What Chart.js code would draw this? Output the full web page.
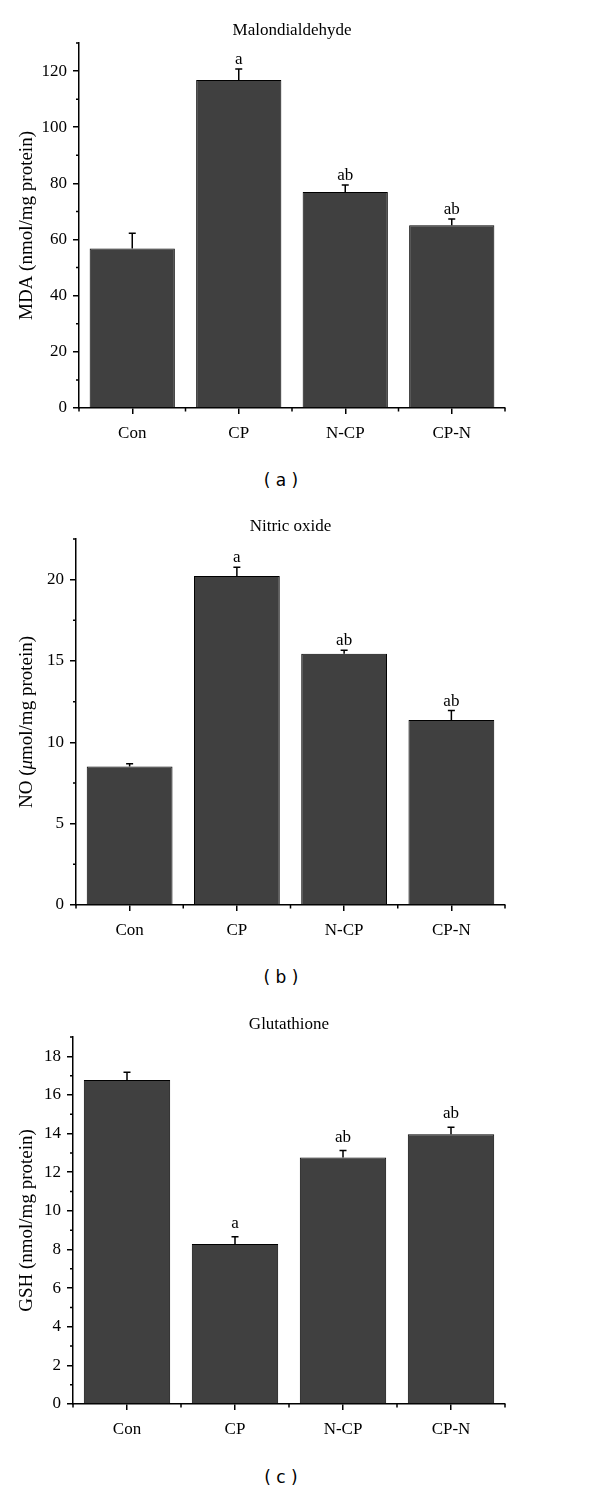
<!DOCTYPE html>
<html><head><meta charset="utf-8">
<script src="https://cdn.jsdelivr.net/npm/chart.js@4.4.1/dist/chart.umd.min.js"></script>
<style>
html,body{margin:0;padding:0;background:#fff}
body{width:600px;height:1491px;position:relative;overflow:hidden}
canvas{position:absolute;left:0}
.cap{position:absolute;left:0;width:562px;text-align:center;font-family:"DejaVu Sans",sans-serif;font-size:17px;line-height:20px;color:#000}
</style></head><body>
<canvas id="ca" width="600" height="450" style="top:0px"></canvas>
<div class="cap" style="top:470px">( a )</div>
<canvas id="cb" width="600" height="450" style="top:500px"></canvas>
<div class="cap" style="top:967px">( b )</div>
<canvas id="cc" width="600" height="460" style="top:990px"></canvas>
<div class="cap" style="top:1467px">( c )</div>
<script>
// ---- data ----
const categories = ["Con", "CP", "N-CP", "CP-N"];

const mdaValues  = [56.8, 116.8, 76.9, 65.1];
const mdaErrors  = [5.4, 3.9, 2.5, 2.2];
const mdaLetters = ["", "a", "ab", "ab"];

const noValues  = [8.51, 20.23, 15.44, 11.38];
const noErrors  = [0.18, 0.53, 0.22, 0.57];
const noLetters = ["", "a", "ab", "ab"];

const gshValues  = [16.78, 8.28, 12.76, 13.97];
const gshErrors  = [0.40, 0.38, 0.36, 0.36];
const gshLetters = ["", "a", "ab", "ab"];

const mdaTicks = {min: 0, max: 130, step: 20, minor: 10};
const noTicks  = {min: 0, max: 22.5, step: 5, minor: 2.5};
const gshTicks = {min: 0, max: 19, step: 2, minor: 1};

// ---- drawing ----
const SERIF = '"Liberation Serif","Times New Roman",serif';

const decor = {
  id: 'decor',
  afterDatasetsDraw(chart, args, o) {
    const ctx = chart.ctx, ys = chart.scales.y, meta = chart.getDatasetMeta(0);
    ctx.save();
    ctx.strokeStyle = '#000'; ctx.lineWidth = 1.5;
    ctx.fillStyle = '#000';
    ctx.font = '17px ' + SERIF;
    ctx.textAlign = 'center'; ctx.textBaseline = 'alphabetic';
    meta.data.forEach((bar, i) => {
      const v = o.values[i], e = o.errors[i];
      const y0 = ys.getPixelForValue(v), y1 = ys.getPixelForValue(v + e);
      ctx.beginPath();
      ctx.moveTo(bar.x, y0); ctx.lineTo(bar.x, y1);
      ctx.moveTo(bar.x - 3.5, y1); ctx.lineTo(bar.x + 3.5, y1);
      ctx.stroke();
      if (o.letters[i]) ctx.fillText(o.letters[i], bar.x, y1 - o.gap);
    });
    ctx.restore();
  },
  afterDraw(chart, args, o) {
    const ctx = chart.ctx, ys = chart.scales.y, xs = chart.scales.x, ca = chart.chartArea;
    ctx.save();
    ctx.strokeStyle = '#000'; ctx.lineWidth = 1.5;
    ctx.beginPath();
    const t = o.ticks;
    for (let k = 0; ; k++) {
      const v = t.min + k * t.minor;
      if (v > t.max + 1e-9) break;
      const r = v / t.step;
      if (Math.abs(r - Math.round(r)) < 1e-6) continue;
      const y = ys.getPixelForValue(v);
      ctx.moveTo(ca.left - 3, y); ctx.lineTo(ca.left, y);
    }
    for (let i = 0; i <= categories.length; i++) {
      const x = xs.getPixelForValue(i - 0.5);
      ctx.moveTo(x, ca.bottom); ctx.lineTo(x, ca.bottom + 3.5);
    }
    ctx.stroke();
    // y-axis title
    ctx.translate(o.labelX, (ca.top + ca.bottom) / 2);
    ctx.rotate(-Math.PI / 2);
    ctx.fillStyle = '#000';
    ctx.textBaseline = 'middle';
    ctx.textAlign = 'left';
    const fonts = o.label.map(s => (s.italic ? 'italic ' : '') + '19px ' + SERIF);
    let total = 0;
    o.label.forEach((s, i) => { ctx.font = fonts[i]; total += ctx.measureText(s.text).width; });
    let x = -total / 2;
    o.label.forEach((s, i) => { ctx.font = fonts[i]; ctx.fillText(s.text, x, 0); x += ctx.measureText(s.text).width; });
    ctx.restore();
  }
};

function makeChart(id, cfg) {
  const H = document.getElementById(id).height;
  const lh = 17 * 1.2;
  return new Chart(document.getElementById(id), {
    type: 'bar',
    data: {
      labels: categories,
      datasets: [{
        data: cfg.values,
        backgroundColor: '#404040',
        borderColor: '#000',
        borderWidth: 1,
        barPercentage: 0.8,
        categoryPercentage: 1.0
      }]
    },
    options: {
      responsive: false,
      animation: false,
      devicePixelRatio: 1,
      layout: {padding: {left: 0, right: 600 - cfg.right, top: 0, bottom: 0}},
      plugins: {
        legend: {display: false},
        tooltip: {enabled: false},
        title: {
          display: true, text: cfg.title, fullSize: false,
          color: '#000', font: {family: SERIF, size: 17, weight: 'normal'},
          padding: {top: cfg.titleY - lh / 2, bottom: cfg.top - cfg.titleY - lh / 2}
        },
        decor: {values: cfg.values, errors: cfg.errors, letters: cfg.letters, gap: cfg.gap,
                ticks: cfg.ticks, label: cfg.label, labelX: 27}
      },
      scales: {
        x: {
          offset: true,
          grid: {display: true, drawOnChartArea: false, drawTicks: true, offset: false,
                 tickLength: 6, color: '#000', lineWidth: 1.5},
          border: {display: true, color: '#000', width: 1.5},
          ticks: {color: '#000', font: {family: SERIF, size: 17}, padding: 9, maxRotation: 0},
          afterFit(s) { s.height = H - cfg.bottom; }
        },
        y: {
          min: cfg.ticks.min, max: cfg.ticks.max,
          grid: {display: true, drawOnChartArea: false, drawTicks: true,
                 tickLength: 6, color: '#000', lineWidth: 1.5},
          border: {display: true, color: '#000', width: 1.5},
          ticks: {stepSize: cfg.ticks.step, includeBounds: false, color: '#000',
                  font: {family: SERIF, size: 17}, padding: 6},
          afterFit(s) { s.width = cfg.left; }
        }
      }
    },
    plugins: [decor]
  });
}

makeChart('ca', {
  values: mdaValues, errors: mdaErrors, letters: mdaLetters, ticks: mdaTicks,
  title: 'Malondialdehyde', gap: 5,
  label: [{text: 'MDA (nmol/mg protein)'}],
  left: 79, right: 505, top: 43, bottom: 408, titleY: 31
});
makeChart('cb', {
  values: noValues, errors: noErrors, letters: noLetters, ticks: noTicks,
  title: 'Nitric oxide', gap: 5,
  label: [{text: 'NO ('}, {text: 'μ', italic: true}, {text: 'mol/mg protein)'}],
  left: 76, right: 505, top: 39, bottom: 405, titleY: 27
});
makeChart('cc', {
  values: gshValues, errors: gshErrors, letters: gshLetters, ticks: gshTicks,
  title: 'Glutathione', gap: 9,
  label: [{text: 'GSH (nmol/mg protein)'}],
  left: 73, right: 505, top: 47, bottom: 414, titleY: 35
});
</script>
</body></html>
